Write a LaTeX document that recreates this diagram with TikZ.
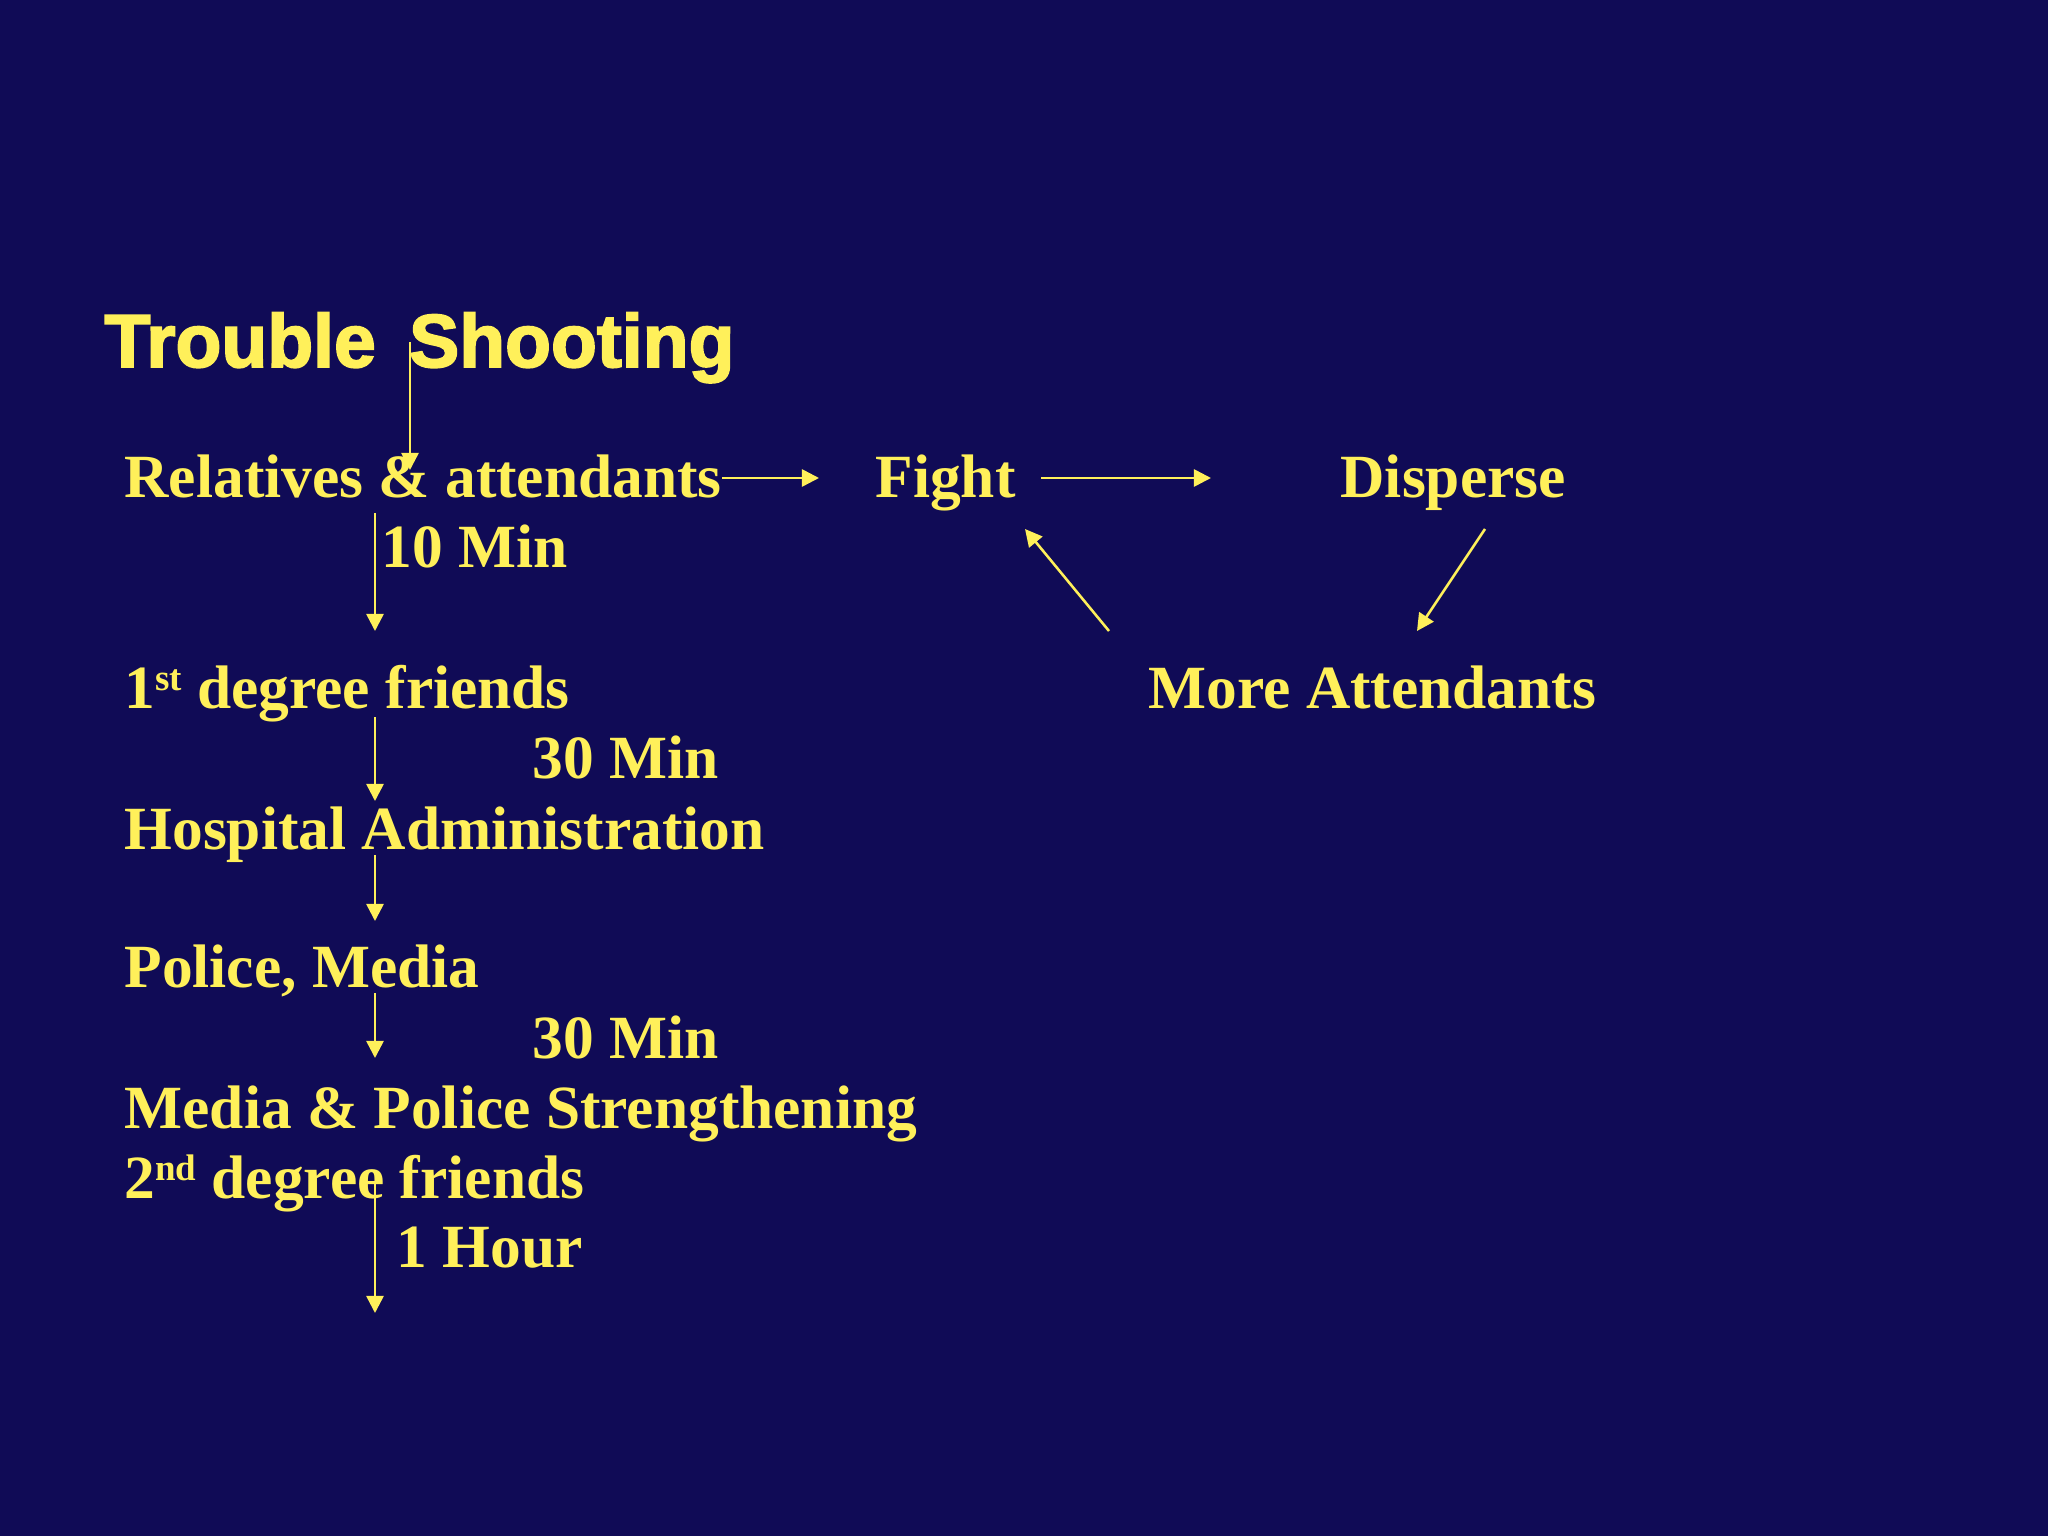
\documentclass[tikz,border=0pt]{standalone}
\usepackage{fontspec}
\setmainfont{Liberation Serif}
\newfontfamily\titlefont{Liberation Sans Bold}[FakeBold=2.5]
\usetikzlibrary{arrows.meta}
\definecolor{bgblue}{HTML}{100B56}
\definecolor{ylw}{HTML}{FFF05A}
\newcommand{\supr}[1]{\raisebox{0.62ex}{\fontsize{13pt}{13pt}\selectfont #1}}
\begin{document}
\begin{tikzpicture}[x=0.3515625pt,y=-0.3515625pt,
  txt/.style={anchor=base west,inner sep=0pt,text=ylw,font=\fontsize{21.6pt}{24pt}\selectfont\bfseries},
  ttl/.style={anchor=base west,inner sep=0pt,text=ylw,font=\fontsize{26.4pt}{30pt}\titlefont},
  conn/.style={draw=ylw,line width=0.9pt,-{Triangle[width=6pt,length=6pt]}}]
\fill[bgblue] (0,0) rectangle (2048,1536);
\useasboundingbox (0,0) rectangle (2048,1536);
% nodes
\node[ttl] (title) at (104,367) {Trouble\, Shooting};
\node[txt] (rel) at (124,498) {Relatives \& attendants};
\node[txt] (fight) at (875,498) {Fight};
\node[txt] (disp) at (1340,498) {Disperse};
\node[txt] (more) at (1148,708) {More Attendants};
\node[txt] (t10) at (381,568) {10 Min};
\node[txt] (first) at (124,708) {1\supr{st} degree friends};
\node[txt] (t30a) at (532,778) {30 Min};
\node[txt] (hosp) at (124,849) {Hospital Administration};
\node[txt] (police) at (124,987) {Police, Media};
\node[txt] (t30b) at (532,1058) {30 Min};
\node[txt] (mps) at (124,1128) {Media \& Police Strengthening};
\node[txt] (second) at (124,1198) {2\supr{nd} degree friends};
\node[txt] (t1h) at (396,1267) {1 Hour};
% connector end points
\coordinate (a0s) at (410,342); \coordinate (a0e) at (410,470);
\coordinate (a1s) at (722,478); \coordinate (a1e) at (819,478);
\coordinate (a2s) at (1041,478); \coordinate (a2e) at (1211,478);
\coordinate (a3s) at (1485,529); \coordinate (a3e) at (1417,631);
\coordinate (a4s) at (1109,631); \coordinate (a4e) at (1025,529);
\coordinate (v1s) at (375,513); \coordinate (v1e) at (375,631);
\coordinate (v2s) at (375,717); \coordinate (v2e) at (375,801);
\coordinate (v3s) at (375,855); \coordinate (v3e) at (375,921);
\coordinate (v4s) at (375,993); \coordinate (v4e) at (375,1058);
\coordinate (v5s) at (375,1182); \coordinate (v5e) at (375,1313);
% connectors
\draw[conn] (a0s) -- (a0e);
\draw[conn] (a1s) -- (a1e);
\draw[conn] (a2s) -- (a2e);
\draw[conn] (a3s) -- (a3e);
\draw[conn] (a4s) -- (a4e);
\draw[conn] (v1s) -- (v1e);
\draw[conn] (v2s) -- (v2e);
\draw[conn] (v3s) -- (v3e);
\draw[conn] (v4s) -- (v4e);
\draw[conn] (v5s) -- (v5e);
\end{tikzpicture}
\end{document}
